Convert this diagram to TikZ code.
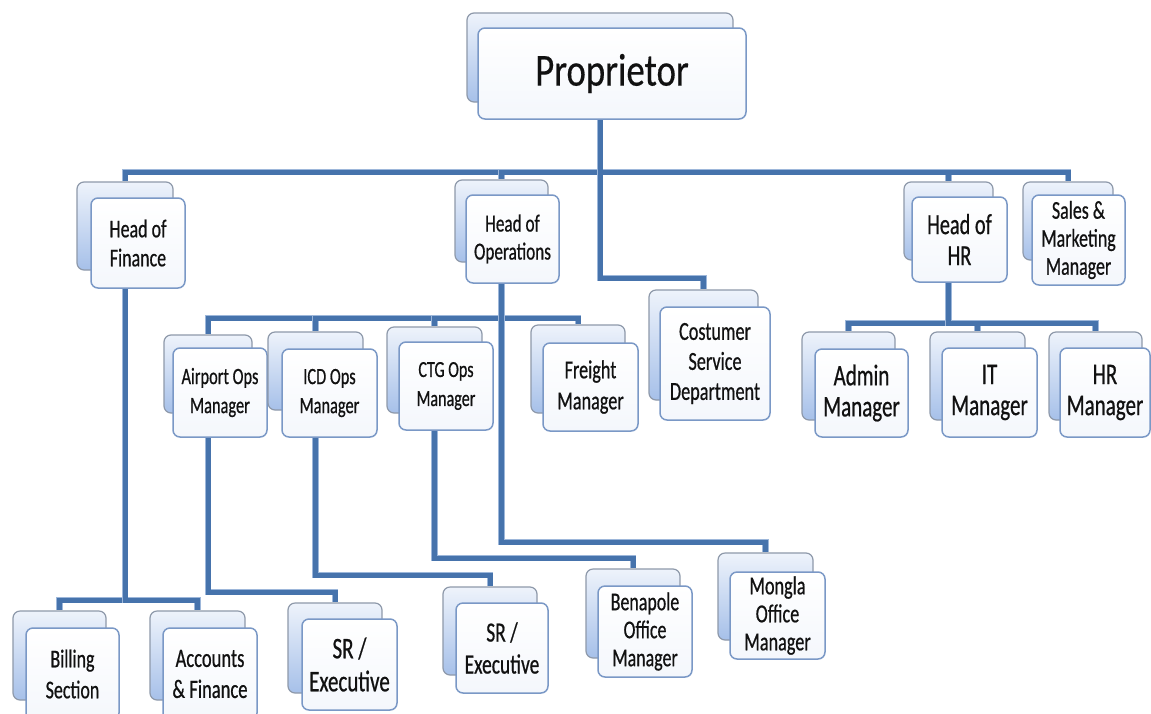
\documentclass[tikz,border=0pt]{standalone}
\usepackage{fontspec}
\newfontfamily\cf[FakeStretch=0.7,FakeBold=0.6]{Carlito}
\newfontfamily\cfp[FakeStretch=0.8,FakeBold=0.4]{Carlito}
\newcommand\fz[2]{\cf\fontsize{#1}{#2}\selectfont}
\pgfdeclarelayer{bg}
\pgfsetlayers{bg,main}
\definecolor{lineblue}{HTML}{4673AC}
\definecolor{lineedge}{HTML}{9DB7DA}
\definecolor{backtop}{HTML}{EEF3FB}
\definecolor{backbot}{HTML}{A6C0E9}
\definecolor{backdraw}{HTML}{8E99AA}
\definecolor{frontdraw}{HTML}{7A98C6}
\definecolor{frontbot}{HTML}{F4F7FC}
\definecolor{txt}{HTML}{111111}
\tikzset{
  back/.style={draw=backdraw, line width=1.2pt, rounded corners=7pt,
    top color=backtop, bottom color=backbot, inner sep=0pt},
  front/.style={draw=frontdraw, line width=1.5pt, rounded corners=7pt,
    top color=white, bottom color=frontbot, inner sep=0pt,
    align=center, text=txt},
  conn/.style={draw=lineblue, line width=5pt,
    preaction={draw=lineedge, line width=6.5pt}},
}
\begin{document}
\begin{tikzpicture}[x=1pt,y=-1pt]
\useasboundingbox (0,0) rectangle (1151,713);
\clip (0,0) rectangle (1151,713);

% bus levels
\coordinate (L0) at (0,172);
\coordinate (Lcs) at (0,278);
\coordinate (Lops) at (0,318);
\coordinate (Lhr) at (0,323);
\coordinate (Lmon) at (0,542);
\coordinate (Lctg) at (0,558);
\coordinate (Licd) at (0,575);
\coordinate (Lair) at (0,592);
\coordinate (Lfin) at (0,600);

% Proprietor
\node[back, minimum width=266, minimum height=89] (prop-b) at (600,57.5) {};
\node[front, minimum width=268, minimum height=91, font={\cfp\fontsize{46}{56}\selectfont}] (prop) at (612,73.5) {Proprietor};

% level 1
\node[back, minimum width=96, minimum height=88] (fin-b) at (125,226) {};
\node[front, minimum width=94, minimum height=90, font={\fz{25.6}{29}}] (fin) at (138,243) {Head of\\Finance};

\node[back, minimum width=93, minimum height=82] (ops-b) at (501.5,221) {};
\node[front, minimum width=93, minimum height=88, font={\fz{24.5}{28}}] (ops) at (512.5,239) {Head of\\Operations};

\node[back, minimum width=89, minimum height=78] (hr-b) at (948.5,221) {};
\node[front, minimum width=95, minimum height=85, font={\fz{29}{31}}] (hr) at (959.5,239.5) {Head of\\HR};

\node[back, minimum width=90, minimum height=78] (sal-b) at (1068,221) {};
\node[front, minimum width=93, minimum height=90, font={\fz{25.6}{28}}] (sal) at (1078.5,240) {Sales \&\\Marketing\\Manager};

% level 2
\node[back, minimum width=88, minimum height=78] (air-b) at (208,374) {};
\node[front, minimum width=94, minimum height=89, font={\fz{23.4}{29}}] (air) at (220,392.5) {Airport Ops\\Manager};

\node[back, minimum width=95, minimum height=78] (icd-b) at (315.5,371) {};
\node[front, minimum width=95, minimum height=88, font={\fz{23.4}{29}}] (icd) at (329.5,393) {ICD Ops\\Manager};

\node[back, minimum width=95, minimum height=86] (ctg-b) at (434.5,370) {};
\node[front, minimum width=94, minimum height=88, font={\fz{23}{29}}] (ctg) at (446,386) {CTG Ops\\Manager};

\node[back, minimum width=94, minimum height=88] (fre-b) at (578,369) {};
\node[front, minimum width=95, minimum height=88, font={\fz{26}{31}}] (fre) at (590.5,387) {Freight\\Manager};

\node[back, minimum width=109, minimum height=110] (cs-b) at (703.5,345) {};
\node[front, minimum width=110, minimum height=113, font={\fz{26}{30}}] (cs) at (715,363.5) {Costumer\\Service\\Department};

\node[back, minimum width=93, minimum height=88] (adm-b) at (848.5,376) {};
\node[front, minimum width=93, minimum height=88, font={\fz{30}{31}}] (adm) at (861.5,393) {Admin\\Manager};

\node[back, minimum width=95, minimum height=88] (it-b) at (977.5,376) {};
\node[front, minimum width=95, minimum height=89, font={\fz{30}{31}}] (it) at (989.5,392.5) {IT\\Manager};

\node[back, minimum width=93, minimum height=88] (hrm-b) at (1095.5,376) {};
\node[front, minimum width=90, minimum height=89, font={\fz{30}{31}}] (hrm) at (1105,392.5) {HR\\Manager};

% level 3
\node[back, minimum width=93, minimum height=89] (bil-b) at (59.5,655.5) {};
\node[front, minimum width=93, minimum height=92, font={\fz{25.6}{31}}] (bil) at (72.5,674) {Billing\\Section};

\node[back, minimum width=95, minimum height=89] (acc-b) at (197.5,655.5) {};
\node[front, minimum width=94, minimum height=92, font={\fz{26.5}{31}}] (acc) at (210,674) {Accounts\\\& Finance};

\node[back, minimum width=94, minimum height=90] (sr1-b) at (335,648) {};
\node[front, minimum width=95, minimum height=91, font={\fz{30}{33}}] (sr1) at (349.5,664.5) {SR /\\Executive};

\node[back, minimum width=94, minimum height=88] (sr2-b) at (490,631) {};
\node[front, minimum width=92, minimum height=90, font={\fz{27.8}{32}}] (sr2) at (502,648) {SR /\\Executive};

\node[back, minimum width=94, minimum height=89] (ben-b) at (633,613.5) {};
\node[front, minimum width=94, minimum height=91, font={\fz{25.6}{28}}] (ben) at (645,631.5) {Benapole\\Office\\Manager};

\node[back, minimum width=95, minimum height=87] (mon-b) at (765.5,596.5) {};
\node[front, minimum width=95, minimum height=87, font={\fz{26}{28}}] (mon) at (777.5,615.5) {Mongla\\Office\\Manager};

% connectors
\begin{pgfonlayer}{bg}
\fill[white] (0,0) rectangle (1151,713);
\draw[conn] (prop-b.south) |- (fin-b.north |- L0) -- (fin-b.north);
\draw[conn] (prop-b.south) |- (ops-b.north |- L0) -- (ops-b.north);
\draw[conn] (prop-b.south) |- (hr-b.north |- L0) -- (hr-b.north);
\draw[conn] (prop-b.south) |- (sal-b.north |- L0) -- (sal-b.north);
\draw[conn] (prop-b.south) |- (cs-b.north |- Lcs) -- (cs-b.north);

\draw[conn] (fin-b.south) |- (bil-b.north |- Lfin) -- (bil-b.north);
\draw[conn] (fin-b.south) |- (acc-b.north |- Lfin) -- (acc-b.north);

\draw[conn] (ops-b.south) |- (air-b.north |- Lops) -- (air-b.north);
\draw[conn] (ops-b.south) |- (icd-b.north |- Lops) -- (icd-b.north);
\draw[conn] (ops-b.south) |- (ctg-b.north |- Lops) -- (ctg-b.north);
\draw[conn] (ops-b.south) |- (fre-b.north |- Lops) -- (fre-b.north);
\draw[conn] (ops-b.south) |- (mon-b.north |- Lmon) -- (mon-b.north);

\draw[conn] (air-b.south) |- (sr1-b.north |- Lair) -- (sr1-b.north);
\draw[conn] (icd-b.south) |- (sr2-b.north |- Licd) -- (sr2-b.north);
\draw[conn] (ctg-b.south) |- (ben-b.north |- Lctg) -- (ben-b.north);

\draw[conn] (hr-b.south) |- (adm-b.north |- Lhr) -- (adm-b.north);
\draw[conn] (hr-b.south) |- (it-b.north |- Lhr) -- (it-b.north);
\draw[conn] (hr-b.south) |- (hrm-b.north |- Lhr) -- (hrm-b.north);
\end{pgfonlayer}
\end{tikzpicture}
\end{document}
